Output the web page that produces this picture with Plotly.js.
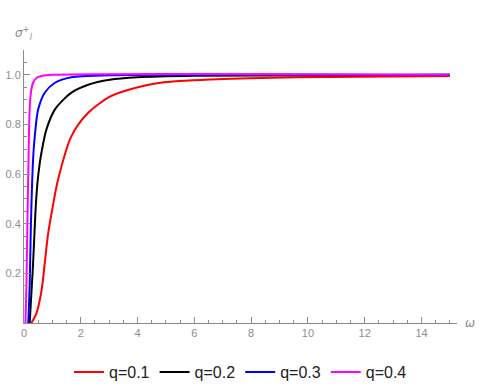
<!DOCTYPE html>
<html>
<head>
<meta charset="utf-8">
<script src="https://cdn.plot.ly/plotly-3.0.1.min.js"></script>
<style>
  html, body { margin: 0; padding: 0; background: #fff; }
  #plot { width: 480px; height: 389px; }
</style>
</head>
<body>
<div id="plot"></div>
<script>
// values (omega, sigma)
const seriesNames = ["q=0.1", "q=0.2", "q=0.3", "q=0.4"];
const seriesColors = ["#ff0000", "#000000", "#0000ff", "#ff00ff"];

const omegaQ1 = [0.26, 0.44, 0.62, 0.73, 0.85, 1.03, 1.2, 1.67, 2.26, 3.02, 3.63, 4.81, 6.8, 9.7, 15];
const sigmaQ1 = [0, 0.04, 0.133, 0.24, 0.36, 0.48, 0.578, 0.753, 0.847, 0.912, 0.938, 0.968, 0.982, 0.99, 0.995];

const omegaQ2 = [0.2, 0.32, 0.4, 0.47, 0.55, 0.62, 0.79, 1.09, 1.67, 2.26, 3.02, 4, 6, 15];
const sigmaQ2 = [0, 0.24, 0.44, 0.56, 0.64, 0.69, 0.78, 0.861, 0.928, 0.96, 0.98, 0.99, 0.996, 1.0];

const omegaQ3 = [0.15, 0.2, 0.24, 0.29, 0.33, 0.38, 0.5, 0.73, 1.09, 1.67, 3, 15];
const sigmaQ3 = [0, 0.15, 0.38, 0.578, 0.68, 0.753, 0.861, 0.928, 0.968, 0.99, 0.998, 1.0];

const omegaQ4 = [0.05, 0.08, 0.11, 0.15, 0.2, 0.25, 0.32, 0.45, 0.62, 1.0, 15];
const sigmaQ4 = [0, 0.12, 0.33, 0.6, 0.86, 0.935, 0.968, 0.988, 0.995, 1.0, 1.0];

const yTicks = [0.2, 0.4, 0.6, 0.8, 1.0];
const yTickText = ["0.2", "0.4", "0.6", "0.8", "1.0"];

const xs = [omegaQ1, omegaQ2, omegaQ3, omegaQ4];
const ys = [sigmaQ1, sigmaQ2, sigmaQ3, sigmaQ4];

const traces = xs.map((x, i) => ({
  x: x,
  y: ys[i],
  type: "scatter",
  mode: "lines",
  name: seriesNames[i],
  line: { color: seriesColors[i], width: 2, shape: "spline", smoothing: 0.8 },
}));

const axisGray = "#8c8c8c";

const layout = {
  width: 480,
  height: 389,
  // keep the plot box fixed, legend sits in the bottom margin
  margin: { l: 24, r: 23, t: 50, b: 66, autoexpand: false },
  paper_bgcolor: "#fff",
  plot_bgcolor: "#fff",
  showlegend: true,
  legend: {
    orientation: "h",
    x: 0.5,
    xanchor: "center",
    y: -0.18,
    yanchor: "middle",
    font: { family: "Liberation Sans, Arial, sans-serif", size: 16, color: "#222" },
    itemwidth: 30,
    itemgap: 17,
  },
  xaxis: {
    range: [0, 15.25],
    tickmode: "linear",
    tick0: 0,
    dtick: 2,
    ticks: "inside",
    ticklen: 6,
    tickcolor: axisGray,
    showline: true,
    linecolor: axisGray,
    linewidth: 1,
    showgrid: false,
    zeroline: false,
    tickfont: { family: "Liberation Sans, Arial, sans-serif", size: 11, color: axisGray },
    minor: { tickmode: "linear", tick0: 0, dtick: 0.5, ticks: "inside", ticklen: 3, tickcolor: axisGray, showgrid: false },
  },
  yaxis: {
    range: [0, 1.1],
    tickmode: "array",
    tickvals: yTicks,
    ticktext: yTickText,
    ticks: "inside",
    ticklen: 6,
    tickcolor: axisGray,
    showline: true,
    linecolor: axisGray,
    linewidth: 1,
    showgrid: false,
    zeroline: false,
    tickfont: { family: "Liberation Sans, Arial, sans-serif", size: 11, color: axisGray },
    minor: { tickmode: "linear", tick0: 0, dtick: 0.05, ticks: "inside", ticklen: 3, tickcolor: axisGray, showgrid: false },
  },
  annotations: [
    {
      text: "<i>σ</i><sup>+</sup><sub><i>l</i></sub>",
      xref: "paper", yref: "paper",
      x: 0, y: 1.0, xanchor: "center", yanchor: "bottom", yshift: 6,
      showarrow: false,
      font: { family: "DejaVu Sans, sans-serif", size: 12, color: axisGray },
    },
    {
      text: "<i>ω</i>",
      xref: "paper", yref: "paper",
      x: 1, y: 0, xanchor: "left", yanchor: "middle", xshift: 6,
      showarrow: false,
      font: { family: "DejaVu Sans, sans-serif", size: 12, color: axisGray },
    },
  ],
};

Plotly.newPlot("plot", traces, layout, { displayModeBar: false, staticPlot: true });
</script>
</body>
</html>
